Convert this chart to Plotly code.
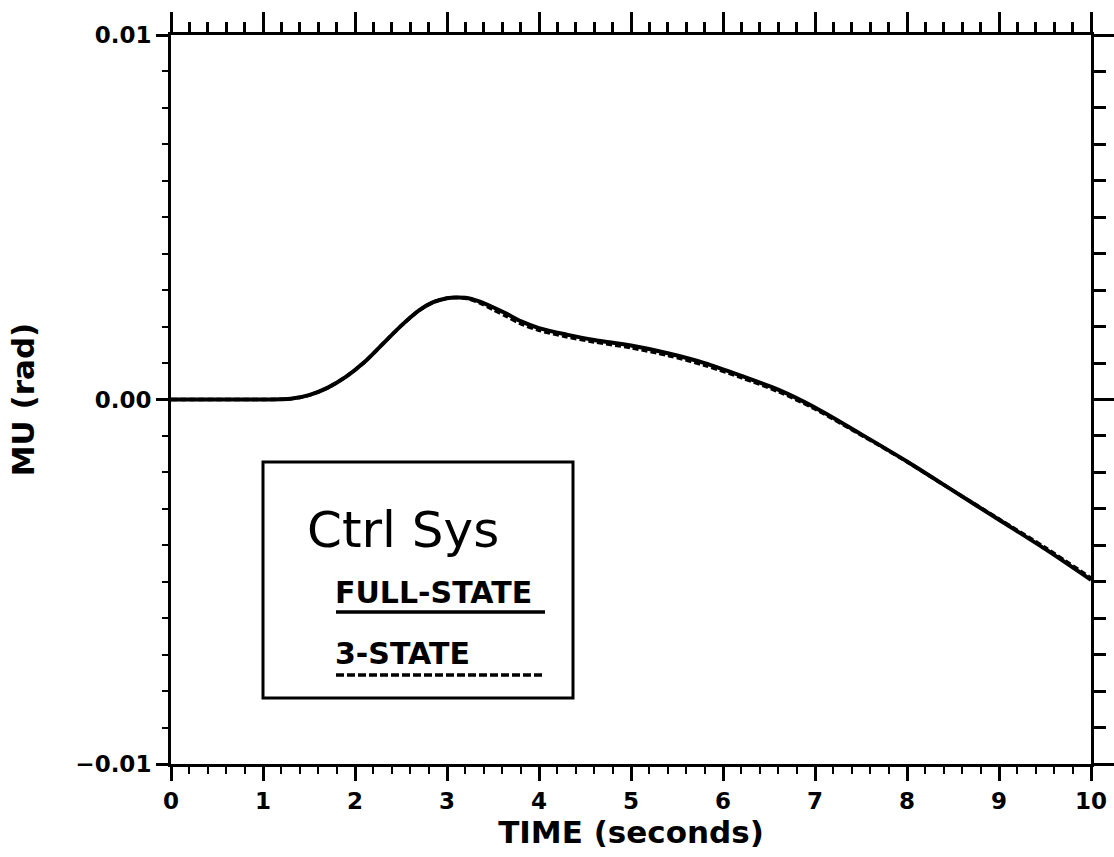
import plotly.graph_objects as go

# ---- data (time in seconds, MU in rad) ----
time_s = [0.0, 0.5, 1.0, 1.3, 1.5, 1.7, 1.9, 2.1, 2.3, 2.5, 2.7, 2.85, 3.0, 3.1, 3.2, 3.35,
          3.5, 3.65, 3.8, 4.0, 4.3, 4.6, 5.0, 5.4, 5.8, 6.2, 6.6, 7.0, 7.5, 8.0, 8.5, 9.0,
          9.5, 10.0]
mu_full_state = [0.0, 0.0, 0.0, 0.00002, 0.00012, 0.00032, 0.00062, 0.00102, 0.00152, 0.00202,
                 0.00245, 0.00267, 0.00278, 0.0028, 0.00279, 0.00269, 0.00253, 0.00235,
                 0.00215, 0.00196, 0.00178, 0.00163, 0.00148, 0.00127, 0.001, 0.00065, 0.00027,
                 -0.00022, -0.00095, -0.0017, -0.0025, -0.0033, -0.0041, -0.00495]
mu_3_state = [0.0, 0.0, 0.0, 0.00002, 0.00012, 0.00032, 0.00062, 0.00102, 0.00152, 0.00202,
              0.00245, 0.00267, 0.00278, 0.0028, 0.00278, 0.00266, 0.00247, 0.00228,
              0.00208, 0.0019, 0.00172, 0.00158, 0.00142, 0.00121, 0.00094, 0.0006, 0.00022,
              -0.00026, -0.00097, -0.00171, -0.0025, -0.00328, -0.00406, -0.0049]

x_range = [0, 10]
y_range = [-0.01, 0.01]

FONT = "DejaVu Sans"

fig = go.Figure()
fig.add_trace(go.Scatter(x=time_s, y=mu_full_state, mode="lines", name="FULL-STATE",
                         line=dict(color="black", width=4, shape="spline", smoothing=0.8),
                         showlegend=False))
fig.add_trace(go.Scatter(x=time_s, y=mu_3_state, mode="lines", name="3-STATE",
                         line=dict(color="black", width=3.5, shape="spline", smoothing=0.8,
                                   dash="6px,3px"),
                         showlegend=False))
# invisible trace to carry the mirrored top/right axes
fig.add_trace(go.Scatter(x=time_s, y=mu_full_state, mode="lines", xaxis="x2", yaxis="y2",
                         line=dict(color="rgba(0,0,0,0)", width=0), hoverinfo="skip",
                         showlegend=False))

tickfont = dict(family=FONT, size=23, color="black", weight="bold")
titlefont = dict(family=FONT, size=31, color="black", weight="bold")

fig.update_layout(
    width=1114, height=857,
    margin=dict(l=171, r=23, t=35, b=93, autoexpand=False),
    paper_bgcolor="white", plot_bgcolor="white",
    xaxis=dict(range=x_range, dtick=1, tick0=0, showgrid=False, zeroline=False,
               showline=True, linecolor="black", linewidth=3, automargin=False,
               ticks="outside", ticklen=14, tickwidth=3, tickcolor="black",
               tickfont=tickfont,
               minor=dict(dtick=0.2, ticks="outside", ticklen=7, tickwidth=2, tickcolor="black"),
               title=dict(text="TIME (seconds)", font=titlefont, standoff=8)),
    yaxis=dict(range=y_range, dtick=0.01, tick0=0, tickformat=".2f", showgrid=False,
               zeroline=False, showline=True, linecolor="black", linewidth=3, automargin=False,
               ticks="outside", ticklen=12, tickwidth=3, tickcolor="black",
               tickfont=tickfont,
               minor=dict(dtick=0.001, ticks="outside", ticklen=6, tickwidth=2, tickcolor="black"),
               title=dict(text="MU (rad)", font=titlefont, standoff=32)),
    xaxis2=dict(overlaying="x", side="top", matches="x", range=x_range, dtick=1, tick0=0,
                showgrid=False, zeroline=False, showline=True, linecolor="black", linewidth=3,
                automargin=False,
                ticks="outside", ticklen=20, tickwidth=3, tickcolor="black",
                showticklabels=False,
                minor=dict(dtick=0.2, ticks="outside", ticklen=10, tickwidth=3, tickcolor="black")),
    yaxis2=dict(overlaying="y", side="right", matches="y", range=y_range, dtick=0.01, tick0=0,
                showgrid=False, zeroline=False, showline=True, linecolor="black", linewidth=3,
                automargin=False,
                ticks="outside", ticklen=22, tickwidth=3, tickcolor="black",
                showticklabels=False,
                minor=dict(dtick=0.001, ticks="outside", ticklen=12, tickwidth=3, tickcolor="black")),
)

# ---- custom legend box ----
def px_x(p):
    return (p - 171) / 920.0

def px_y(p):
    return (764 - p) / 729.0

fig.add_shape(type="rect", xref="paper", yref="paper",
              x0=px_x(263), x1=px_x(573), y0=px_y(698), y1=px_y(462),
              line=dict(color="black", width=3), fillcolor="white", layer="above")
fig.add_annotation(x=px_x(305), y=px_y(530), xref="paper", yref="paper",
                   text="Ctrl Sys", showarrow=False, xanchor="left", yanchor="middle",
                   font=dict(family=FONT, size=50, color="black"))
fig.add_annotation(x=px_x(333), y=px_y(592), xref="paper", yref="paper",
                   text="FULL-STATE", showarrow=False, xanchor="left", yanchor="middle",
                   font=dict(family=FONT, size=30, color="black", weight="bold"))
fig.add_annotation(x=px_x(333), y=px_y(653), xref="paper", yref="paper",
                   text="3-STATE", showarrow=False, xanchor="left", yanchor="middle",
                   font=dict(family=FONT, size=30, color="black", weight="bold"))
fig.add_shape(type="line", xref="paper", yref="paper",
              x0=px_x(336), x1=px_x(545), y0=px_y(612), y1=px_y(612),
              line=dict(color="black", width=3.5), layer="above")
fig.add_shape(type="line", xref="paper", yref="paper",
              x0=px_x(336), x1=px_x(545), y0=px_y(675), y1=px_y(675),
              line=dict(color="black", width=3.5, dash="8px,3px"), layer="above")

fig.write_html("out.html", config={"displayModeBar": False},
               post_script="document.body.style.margin='0';")
